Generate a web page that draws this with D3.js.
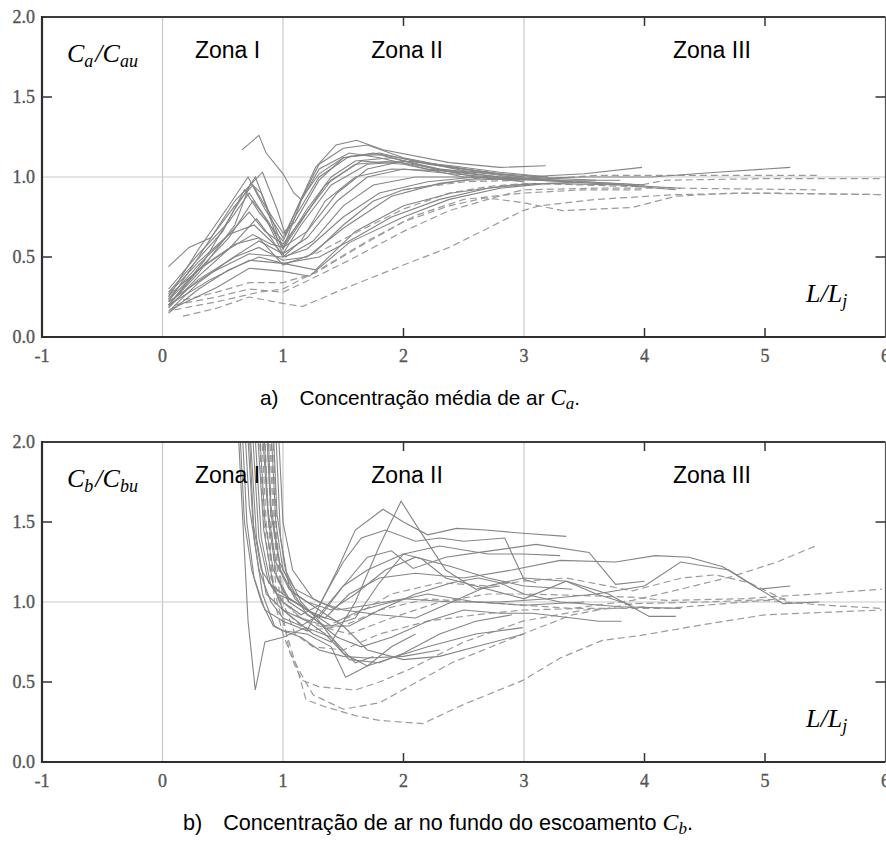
<!DOCTYPE html>
<html>
<head>
<meta charset="utf-8">
<script src="https://cdn.jsdelivr.net/npm/d3@7"></script>
<style>
  html, body { margin: 0; padding: 0; background: #fff; }
  svg { display: block; }
</style>
</head>
<body>
<svg id="fig" width="886" height="841"></svg>
<script>
// ---- axis ticks and labels ----
const xTicks = [-1, 0, 1, 2, 3, 4, 5, 6];
const yTicks = [0.0, 0.5, 1.0, 1.5, 2.0];
const xGrid = [0, 1, 3];
const yGrid = [1.0];
const zones = [
  { name: "Zona I", x: 0.54 },
  { name: "Zona II", x: 2.03 },
  { name: "Zona III", x: 4.56 }
];

// ---- a) mean air concentration Ca/Cau, solid series ----
const caSolid = [
  [[0.05,0.25],[0.3,0.55],[0.55,0.82],[0.71,1.0],[0.85,0.8],[1.0,0.62],[1.15,0.86],[1.3,1.08],[1.5,1.18],[1.7,1.2],[2.0,1.12],[2.4,1.06],[2.8,1.02],[3.2,1.0]],
  [[0.05,0.22],[0.3,0.5],[0.6,0.85],[0.83,1.03],[0.95,0.8],[1.02,0.64],[1.16,0.88],[1.27,1.06],[1.44,1.2],[1.61,1.23],[1.83,1.17],[2.38,1.09],[2.8,1.06],[3.18,1.07]],
  [[0.05,0.2],[0.35,0.48],[0.6,0.8],[0.77,1.0],[0.9,0.75],[1.0,0.56],[1.2,0.8],[1.4,1.0],[1.6,1.1],[1.9,1.12],[2.3,1.05],[2.7,1.02],[3.1,0.98],[3.6,0.96],[4.3,0.93]],
  [[0.66,1.17],[0.8,1.26],[0.86,1.15],[1.0,1.02],[1.09,0.9],[1.15,0.86],[1.3,1.02],[1.5,1.12],[1.8,1.15],[2.2,1.08],[2.7,1.03]],
  [[0.05,0.2],[0.3,0.42],[0.55,0.62],[0.75,0.85],[0.88,0.72],[1.0,0.55],[1.15,0.72],[1.35,0.95],[1.6,1.08],[1.9,1.1],[2.3,1.05],[2.8,1.0],[3.3,0.98]],
  [[0.05,0.18],[0.3,0.38],[0.55,0.55],[0.78,0.74],[0.9,0.62],[1.0,0.5],[1.15,0.6],[1.35,0.85],[1.6,1.0],[1.9,1.05],[2.3,1.04],[2.8,1.0],[3.5,0.97],[4.0,0.95]],
  [[0.05,0.24],[0.3,0.45],[0.5,0.6],[0.72,0.78],[0.85,0.66],[1.0,0.58],[1.2,0.78],[1.4,0.98],[1.65,1.1],[2.0,1.08],[2.5,1.0],[3.0,0.98]],
  [[0.05,0.28],[0.25,0.45],[0.5,0.66],[0.68,0.92],[0.8,0.78],[1.0,0.6],[1.1,0.75],[1.3,1.0],[1.55,1.13],[1.8,1.14],[2.2,1.06],[2.6,1.0],[3.0,0.97]],
  [[0.05,0.16],[0.3,0.34],[0.55,0.48],[0.8,0.6],[1.0,0.52],[1.2,0.62],[1.45,0.85],[1.7,1.0],[2.0,1.05],[2.4,1.02],[2.9,0.99],[3.4,0.97]],
  [[0.06,0.17],[0.45,0.31],[0.72,0.43],[1.0,0.41],[1.22,0.38],[1.55,0.59],[2.0,0.75],[2.38,0.86],[2.8,0.93],[3.2,0.96],[3.8,0.95],[4.26,0.92]],
  [[0.05,0.2],[0.4,0.36],[0.72,0.48],[1.0,0.46],[1.27,0.42],[1.6,0.66],[2.0,0.82],[2.4,0.9],[2.9,0.95],[3.5,0.97],[4.0,0.95]],
  [[0.05,0.22],[0.4,0.4],[0.72,0.52],[1.0,0.5],[1.2,0.55],[1.5,0.75],[1.8,0.9],[2.2,0.97],[2.6,1.0],[3.0,1.0]],
  [[0.05,0.44],[0.22,0.56],[0.4,0.62],[0.6,0.82],[0.75,0.95],[0.85,0.82],[1.0,0.65],[1.1,0.72],[1.3,0.98],[1.5,1.12],[1.75,1.15],[2.1,1.1],[2.6,1.04],[3.0,1.0],[3.5,1.02],[3.98,1.06]],
  [[0.05,0.26],[0.35,0.45],[0.6,0.58],[0.8,0.62],[1.0,0.45],[1.25,0.52],[1.5,0.7],[1.75,0.85],[2.0,0.92],[2.5,0.98],[3.0,0.99],[3.5,1.0],[4.06,1.0],[4.6,1.03],[5.21,1.06]],
  [[0.05,0.19],[0.3,0.36],[0.6,0.5],[0.8,0.56],[1.0,0.48],[1.2,0.5],[1.5,0.68],[1.9,0.88],[2.3,0.96],[2.7,1.0]],
  [[0.05,0.3],[0.3,0.52],[0.55,0.72],[0.72,0.9],[0.85,0.75],[1.0,0.52],[1.15,0.7],[1.4,0.95],[1.7,1.08],[2.1,1.1],[2.5,1.04],[3.0,1.0],[3.6,0.98]],
  [[0.05,0.23],[0.3,0.42],[0.55,0.55],[0.75,0.64],[0.9,0.58],[1.0,0.56],[1.2,0.66],[1.45,0.9],[1.7,1.05],[2.0,1.1],[2.4,1.07],[2.8,1.03],[3.2,1.0]],
  [[0.05,0.2],[0.3,0.4],[0.6,0.7],[0.73,0.96],[0.82,0.9],[0.95,0.62],[1.0,0.55],[1.15,0.85],[1.3,1.05],[1.55,1.15],[1.8,1.12],[2.2,1.05],[2.6,1.02]],
  [[0.05,0.27],[0.3,0.47],[0.55,0.64],[0.76,0.7],[0.9,0.6],[1.02,0.5],[1.25,0.6],[1.5,0.82],[1.75,0.95],[2.1,1.0],[2.6,1.0],[3.1,0.98],[3.8,0.98]],
  [[0.05,0.15],[0.3,0.3],[0.55,0.42],[0.8,0.5],[1.0,0.46],[1.3,0.5],[1.6,0.62],[1.9,0.75],[2.3,0.86],[2.7,0.93],[3.1,0.96]]
];

// ---- a) dashed series ----
const caDashed = [
  [[0.17,0.13],[0.45,0.18],[0.72,0.25],[1.0,0.21],[1.16,0.19],[1.5,0.3],[2.0,0.45],[2.38,0.56],[2.7,0.68],[2.99,0.79],[3.13,0.82],[3.6,0.86],[4.26,0.89],[5.0,0.9],[5.97,0.89]],
  [[0.17,0.23],[0.45,0.28],[0.72,0.34],[1.0,0.34],[1.27,0.4],[1.6,0.55],[2.0,0.72],[2.38,0.82],[2.68,0.87],[2.99,0.84],[3.32,0.79],[3.9,0.81],[4.26,0.88],[4.73,0.9],[5.97,0.89]],
  [[0.1,0.2],[0.45,0.25],[0.72,0.3],[1.0,0.28],[1.2,0.35],[1.55,0.48],[2.0,0.66],[2.38,0.79],[2.7,0.86],[2.99,0.92],[3.62,0.93],[4.3,0.93],[5.42,0.92]],
  [[1.27,0.52],[1.6,0.65],[2.0,0.8],[2.38,0.9],[2.7,0.94],[3.0,0.96],[3.5,0.95],[3.9,0.94],[4.18,0.98],[5.0,0.99],[5.97,0.99]],
  [[2.0,0.92],[2.5,0.97],[3.0,0.98],[3.6,1.01],[4.5,1.01],[5.45,1.01]],
  [[0.1,0.17],[0.45,0.22],[0.8,0.28],[1.0,0.3],[1.3,0.42],[1.7,0.6],[2.1,0.76],[2.5,0.86],[3.0,0.9],[3.5,0.92],[4.0,0.92]]
];

// ---- b) bottom air concentration Cb/Cbu, solid series ----
const cbSolid = [
  [[0.60,2.5],[0.66,1.6],[0.71,0.88],[0.77,0.45],[0.85,0.75],[1.0,0.78],[1.19,0.84],[1.4,0.78],[1.6,0.62],[1.75,0.66]],
  [[0.64,2.4],[0.70,1.5],[0.76,1.15],[0.85,0.95],[1.0,0.88],[1.2,0.82],[1.45,1.2],[1.6,1.45],[1.83,1.58],[2.0,1.5],[2.2,1.42],[2.44,1.46],[2.68,1.45],[2.99,1.43],[3.35,1.41]],
  [[0.70,2.4],[0.78,1.4],[0.86,1.05],[1.0,0.95],[1.25,0.8],[1.4,0.75],[1.6,1.0],[1.8,1.35],[1.98,1.63],[2.14,1.44],[2.35,1.2],[2.6,1.08],[2.8,1.1]],
  [[0.74,2.4],[0.82,1.4],[0.9,1.1],[1.0,1.0],[1.15,0.92],[1.3,0.98],[1.5,1.25],[1.65,1.4],[1.85,1.45],[2.1,1.38],[2.3,1.4],[2.5,1.38],[2.84,1.40],[3.0,1.14],[3.1,1.12]],
  [[0.68,2.4],[0.75,1.5],[0.82,1.2],[0.95,1.05],[1.1,1.0],[1.3,0.9],[1.5,1.1],[1.7,1.28],[1.9,1.32],[2.08,1.21],[2.35,1.28],[2.63,1.31],[3.1,1.36],[3.54,1.31],[3.76,1.11],[4.0,1.13]],
  [[0.78,2.4],[0.85,1.5],[0.92,1.2],[1.05,1.02],[1.2,0.95],[1.35,0.9],[1.55,1.05],[1.8,1.15],[2.1,1.18],[2.5,1.15],[2.9,1.2],[3.3,1.26],[3.76,1.25],[4.09,1.29],[4.37,1.28],[4.65,1.22],[4.95,1.08],[5.21,1.10]],
  [[0.72,2.4],[0.8,1.4],[0.88,1.12],[1.0,1.05],[1.2,0.95],[1.4,0.85],[1.6,0.9],[1.8,1.12],[2.0,1.3],[2.15,1.27],[2.35,1.15],[2.6,1.1],[3.0,1.02],[3.35,1.13],[3.7,1.05],[4.04,0.91],[4.26,0.91]],
  [[0.82,2.4],[0.88,1.5],[0.95,1.15],[1.05,1.0],[1.25,0.9],[1.45,0.78],[1.65,0.72],[1.9,0.78],[2.2,0.88],[2.5,0.95],[2.8,0.93],[3.07,0.93],[3.4,0.9],[3.62,0.88],[3.81,0.88]],
  [[0.76,2.4],[0.84,1.45],[0.92,1.1],[1.0,0.95],[1.2,0.88],[1.35,0.8],[1.55,0.64],[1.8,0.62],[2.0,0.68],[2.3,0.8],[2.6,0.88],[2.9,0.92]],
  [[0.86,2.4],[0.9,1.6],[0.97,1.25],[1.1,1.05],[1.3,0.95],[1.5,0.85],[1.7,0.7],[2.0,0.64],[2.3,0.66],[2.6,0.72],[3.0,0.8]],
  [[0.9,2.4],[0.95,1.55],[1.02,1.2],[1.15,1.0],[1.3,0.88],[1.5,0.68],[1.7,0.6],[1.9,0.65],[2.2,0.72],[2.6,0.8],[2.99,0.84]],
  [[0.66,2.4],[0.72,1.6],[0.8,1.2],[0.9,1.0],[1.0,0.9],[1.15,0.85],[1.3,0.92],[1.5,1.1],[1.7,1.2],[2.0,1.3],[2.3,1.35],[2.7,1.3],[3.0,1.3],[3.3,1.29]],
  [[0.62,2.4],[0.68,1.5],[0.74,1.2],[0.82,1.0],[0.92,0.85],[1.0,0.82],[1.2,0.8],[1.4,0.72],[1.52,0.53],[1.7,0.6],[1.9,0.72],[2.1,0.8]],
  [[0.8,2.4],[0.87,1.6],[0.94,1.25],[1.05,1.08],[1.2,1.0],[1.4,0.95],[1.6,1.05],[1.85,1.2],[2.1,1.28],[2.4,1.22],[2.7,1.15],[3.0,1.1],[3.4,1.08]],
  [[0.84,2.4],[0.9,1.55],[0.98,1.2],[1.1,1.02],[1.25,0.92],[1.45,0.88],[1.65,0.95],[1.9,1.0],[2.2,1.05],[2.6,1.0],[3.0,0.98],[3.5,1.0]],
  [[0.7,2.4],[0.76,1.4],[0.83,1.05],[0.93,0.85],[1.0,0.82],[1.15,0.78],[1.3,0.7],[1.5,0.66],[1.7,0.65],[2.0,0.66],[2.3,0.7]],
  [[0.88,2.4],[0.94,1.5],[1.0,1.2],[1.1,1.08],[1.3,1.0],[1.5,0.95],[1.8,0.92],[2.1,0.9],[2.4,1.0],[2.7,1.1],[3.0,1.15],[3.35,1.13],[3.6,1.05],[3.9,0.98]],
  [[0.92,2.4],[0.98,1.4],[1.05,1.1],[1.2,0.92],[1.35,0.85],[1.55,0.85],[1.8,0.95],[2.1,1.05],[2.4,1.12],[2.62,1.15],[2.8,1.12],[3.0,1.05],[3.3,1.0],[3.8,0.97],[4.3,0.96]],
  [[0.94,2.4],[1.0,1.5],[1.08,1.2],[1.25,1.02],[1.45,0.95],[1.7,0.98],[2.0,1.02],[2.4,1.0],[2.8,1.0],[3.2,1.02],[3.6,1.05],[4.0,1.1],[4.3,1.25],[4.7,1.2],[5.15,0.99],[5.45,1.0]]
];

// ---- b) dashed series ----
const cbDashed = [
  [[0.85,2.4],[0.9,1.5],[0.95,1.0],[1.05,0.75],[1.15,0.5],[1.19,0.39],[1.33,0.35],[1.6,0.29],[1.8,0.26],[2.16,0.24],[2.5,0.36],[2.99,0.51],[3.3,0.65],[3.65,0.76],[3.96,0.79],[4.5,0.86],[5.0,0.92],[5.97,0.95]],
  [[0.83,2.4],[0.88,1.5],[0.93,1.0],[1.0,0.8],[1.1,0.6],[1.16,0.51],[1.3,0.47],[1.6,0.45],[1.8,0.5],[2.05,0.58],[2.5,0.75],[2.99,0.88],[3.5,0.95],[4.0,0.97]],
  [[0.87,2.4],[0.92,1.5],[0.97,1.05],[1.05,0.7],[1.15,0.55],[1.25,0.42],[1.5,0.33],[1.8,0.37],[2.4,0.62],[2.99,0.80],[3.4,0.92],[3.9,0.99],[4.5,1.0],[5.2,1.02]],
  [[0.8,2.4],[0.86,1.5],[0.92,1.1],[1.0,0.95],[1.2,0.82],[1.5,0.85],[1.8,0.95],[2.2,1.02],[2.6,1.0],[3.0,0.98],[3.4,0.96],[3.9,1.01],[4.3,1.08],[4.73,1.16],[5.1,1.25],[5.42,1.35]],
  [[0.78,2.4],[0.84,1.5],[0.9,1.15],[1.0,1.0],[1.15,0.9],[1.35,0.85],[1.6,0.92],[1.9,1.05],[2.3,1.12],[2.7,1.1],[2.99,1.13],[3.35,1.15],[3.9,1.07],[4.31,1.15],[4.59,1.17],[4.87,1.12],[5.2,1.0]],
  [[0.88,2.4],[0.93,1.5],[0.98,1.1],[1.1,0.92],[1.3,0.85],[1.55,0.8],[1.9,0.9],[2.3,1.0],[2.7,1.05],[3.0,1.05],[3.5,1.04],[3.9,1.03],[4.18,1.01],[4.8,1.02],[5.42,1.05],[5.97,1.08]],
  [[0.9,2.4],[0.95,1.4],[1.0,1.0],[1.1,0.8],[1.25,0.72],[1.5,0.7],[1.8,0.8],[2.2,0.88],[2.6,0.92],[2.99,0.95],[3.5,0.96],[4.18,0.96],[5.0,1.01],[5.5,0.98],[5.97,0.96]]
];

// ---- drawing ----
const svg = d3.select("#fig");
const left = 42, right = 885.5, plotH = 320;

const x = d3.scaleLinear().domain([-1, 6]).range([left, right]);

function panel(top, solid, dashed, sub1, sub2, caption, capX, capSize, id) {
  const bottom = top + plotH;
  const y = d3.scaleLinear().domain([0, 2]).range([bottom, top]);
  const g = svg.append("g");

  g.append("clipPath").attr("id", id)
    .append("rect").attr("x", left).attr("y", top)
    .attr("width", right - left).attr("height", plotH);

  // grid lines at the zone limits and at the reference level
  g.selectAll(".gx").data(xGrid).join("line")
    .attr("x1", d => x(d)).attr("x2", d => x(d))
    .attr("y1", top).attr("y2", bottom)
    .attr("stroke", "#c9c9c9").attr("stroke-width", 1.2);
  g.selectAll(".gy").data(yGrid).join("line")
    .attr("x1", left).attr("x2", right)
    .attr("y1", d => y(d)).attr("y2", d => y(d))
    .attr("stroke", "#c9c9c9").attr("stroke-width", 1.2);

  const line = d3.line().x(d => x(d[0])).y(d => y(d[1]));
  const lines = g.append("g").attr("clip-path", `url(#${id})`).attr("fill", "none");
  lines.selectAll(".d").data(dashed).join("path")
    .attr("d", line).attr("stroke", "#9b9b9b").attr("stroke-width", 1.2)
    .attr("stroke-dasharray", "7,4");
  lines.selectAll(".s").data(solid).join("path")
    .attr("d", line).attr("stroke", "#858585").attr("stroke-width", 1.1);

  // frame
  g.append("line").attr("x1", left).attr("x2", right).attr("y1", top).attr("y2", top)
    .attr("stroke", "#3c3c3c").attr("stroke-width", 1.8);
  g.append("line").attr("x1", right).attr("x2", right).attr("y1", top).attr("y2", bottom)
    .attr("stroke", "#555").attr("stroke-width", 1.2);
  g.append("line").attr("x1", left).attr("x2", left).attr("y1", top - 0.9).attr("y2", bottom + 1)
    .attr("stroke", "#2e2e2e").attr("stroke-width", 2.2);
  g.append("line").attr("x1", left - 1).attr("x2", right).attr("y1", bottom).attr("y2", bottom)
    .attr("stroke", "#2e2e2e").attr("stroke-width", 2.2);

  // inward ticks where no grid line is drawn
  const tx = xTicks.filter(t => t > -1 && t < 6 && !xGrid.includes(t));
  const ty = yTicks.filter(t => t > 0 && t < 2 && !yGrid.includes(t));
  tx.forEach(t => {
    g.append("line").attr("x1", x(t)).attr("x2", x(t)).attr("y1", bottom).attr("y2", bottom - 9)
      .attr("stroke", "#333").attr("stroke-width", 1.5);
    g.append("line").attr("x1", x(t)).attr("x2", x(t)).attr("y1", top).attr("y2", top + 9)
      .attr("stroke", "#333").attr("stroke-width", 1.5);
  });
  ty.forEach(t => {
    g.append("line").attr("x1", left).attr("x2", left + 10).attr("y1", y(t)).attr("y2", y(t))
      .attr("stroke", "#333").attr("stroke-width", 1.5);
    g.append("line").attr("x1", right).attr("x2", right - 10).attr("y1", y(t)).attr("y2", y(t))
      .attr("stroke", "#333").attr("stroke-width", 1.5);
  });

  // tick labels
  const tickFont = "'Liberation Serif', 'Times New Roman', serif";
  g.selectAll(".yl").data(yTicks).join("text")
    .attr("x", 35).attr("y", d => y(d)).attr("dy", "0.35em")
    .attr("text-anchor", "end").attr("font-family", tickFont).attr("font-size", 18)
    .attr("fill", "#555").attr("stroke", "#555").attr("stroke-width", 0.35)
    .text(d => d.toFixed(1));
  g.selectAll(".xl").data(xTicks).join("text")
    .attr("x", d => x(d)).attr("y", bottom + 25)
    .attr("text-anchor", "middle").attr("font-family", tickFont).attr("font-size", 18)
    .attr("fill", "#555").attr("stroke", "#555").attr("stroke-width", 0.35)
    .text(d => d);

  // zone names
  g.selectAll(".zn").data(zones).join("text")
    .attr("x", d => x(d.x)).attr("y", top + 41)
    .attr("text-anchor", "middle").attr("font-family", "'Liberation Sans', Arial, sans-serif")
    .attr("font-size", 23).attr("fill", "#000").text(d => d.name);

  // axis quantity labels (math italic)
  const mathFont = "'Liberation Serif', 'DejaVu Serif', serif";
  const yl = g.append("text").attr("x", 67).attr("y", top + 45)
    .attr("font-family", mathFont).attr("font-style", "italic").attr("font-size", 26).attr("fill", "#000");
  yl.append("tspan").text("C");
  yl.append("tspan").attr("font-size", 18).attr("dy", 5).text(sub1);
  yl.append("tspan").attr("dy", -5).attr("dx", 2).text("/C");
  yl.append("tspan").attr("font-size", 18).attr("dy", 5).text(sub2);

  const xl = g.append("text").attr("x", 806).attr("y", top + 285)
    .attr("font-family", mathFont).attr("font-style", "italic").attr("font-size", 26).attr("fill", "#000");
  xl.append("tspan").text("L/L");
  xl.append("tspan").attr("font-size", 18).attr("dy", 5).text("j");

  // caption
  const cap = g.append("text").attr("x", capX).attr("y", bottom + 68)
    .attr("font-family", "'Liberation Sans', Arial, sans-serif").attr("font-size", capSize).attr("fill", "#000");
  cap.append("tspan").text(caption[0]);
  cap.append("tspan").attr("dx", 21).text(caption[1] + " ");
  cap.append("tspan").attr("font-family", mathFont).attr("font-style", "italic").attr("font-size", capSize + 2.2).text("C");
  cap.append("tspan").attr("font-family", mathFont).attr("font-style", "italic").attr("font-size", 17).attr("dy", 4).text(caption[2]);
  cap.append("tspan").attr("dy", -4).text(".");
}

panel(17, caSolid, caDashed, "a", "au",
  ["a)", "Concentração média de ar", "a"], 260, 20.8, "clipA");
panel(442, cbSolid, cbDashed, "b", "bu",
  ["b)", "Concentração de ar no fundo do escoamento", "b"], 183, 21.6, "clipB");
</script>
</body>
</html>
